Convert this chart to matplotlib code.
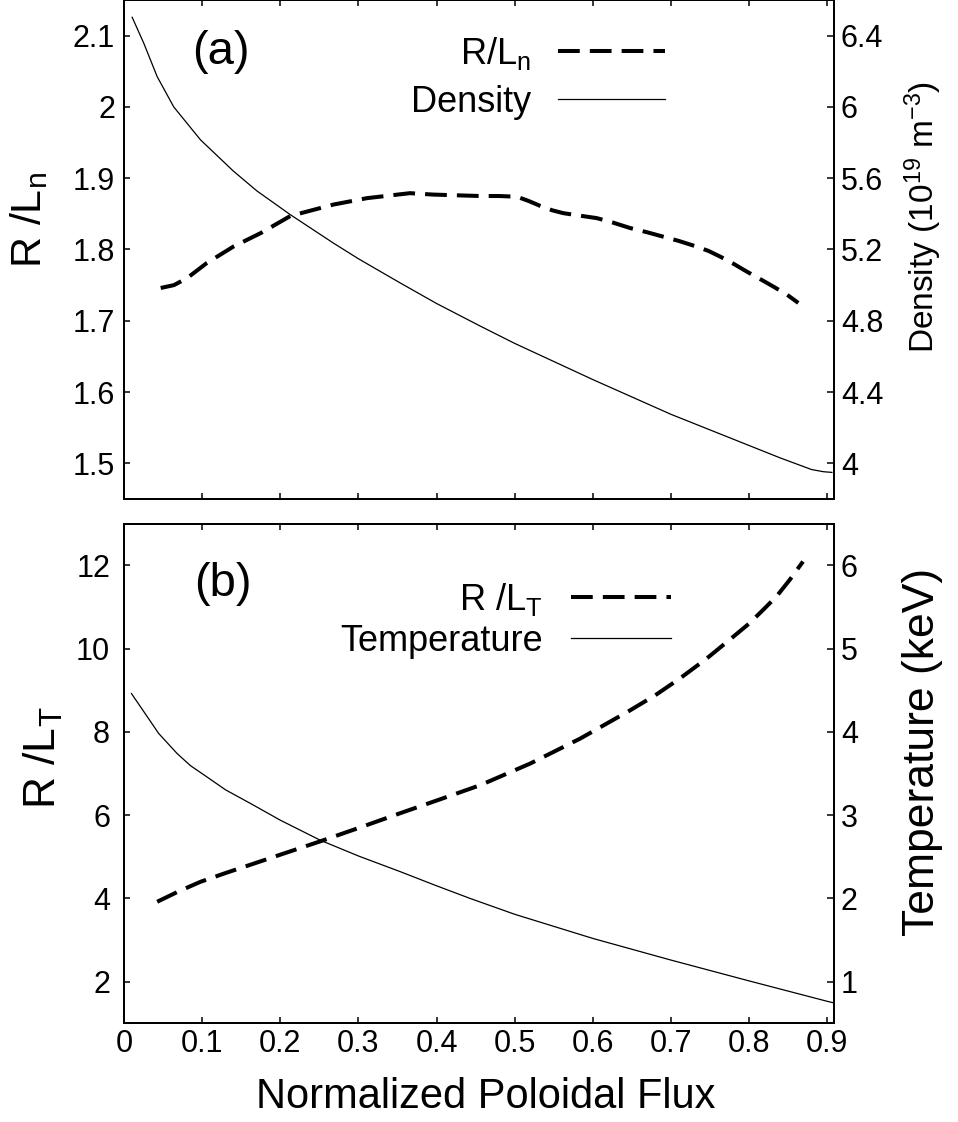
import matplotlib
matplotlib.use("Agg")
import matplotlib.pyplot as plt
from matplotlib.ticker import FuncFormatter, MultipleLocator

plt.rcParams['font.family'] = ['Liberation Sans', 'DejaVu Sans']
plt.rcParams['mathtext.default'] = 'regular'

# ---- panel (a): density gradient and density profile ----
psi_rln = [0.047, 0.064, 0.081, 0.106, 0.140, 0.175, 0.213, 0.268, 0.311, 0.366,
           0.396, 0.456, 0.480, 0.503, 0.518, 0.533, 0.548, 0.562, 0.580, 0.605,
           0.625, 0.648, 0.670, 0.690, 0.710, 0.733, 0.748, 0.763, 0.780, 0.797,
           0.815, 0.831, 0.848, 0.863]
rln = [1.746, 1.750, 1.760, 1.781, 1.804, 1.823, 1.847, 1.863, 1.872, 1.879,
       1.877, 1.875, 1.875, 1.874, 1.868, 1.861, 1.855, 1.851, 1.848, 1.844,
       1.838, 1.830, 1.824, 1.818, 1.812, 1.804, 1.798, 1.790, 1.780, 1.769,
       1.758, 1.748, 1.737, 1.725]

psi_ne = [0.0105, 0.0254, 0.0425, 0.0637, 0.098, 0.140, 0.170, 0.213, 0.268, 0.300,
          0.354, 0.400, 0.456, 0.500, 0.600, 0.700, 0.800, 0.840, 0.880, 0.895,
          0.906]
ne = [6.503, 6.357, 6.170, 6.000, 5.815, 5.640, 5.529, 5.395, 5.236, 5.148,
      5.011, 4.897, 4.770, 4.673, 4.470, 4.275, 4.100, 4.030, 3.965, 3.953,
      3.949]

# ---- panel (b): temperature gradient and temperature profile ----
psi_rlt = [0.0425, 0.070, 0.098, 0.130, 0.162, 0.200, 0.251, 0.300, 0.354, 0.400,
           0.456, 0.520, 0.584, 0.648, 0.680, 0.712, 0.745, 0.775, 0.800, 0.818,
           0.835, 0.852, 0.869]
rlt = [3.92, 4.17, 4.40, 4.61, 4.81, 5.05, 5.37, 5.69, 6.05, 6.35,
       6.72, 7.24, 7.84, 8.52, 8.88, 9.29, 9.75, 10.21, 10.60, 10.93,
       11.25, 11.65, 12.09]

psi_te = [0.0096, 0.0445, 0.068, 0.085, 0.106, 0.130, 0.162, 0.200, 0.251, 0.300,
          0.354, 0.400, 0.443, 0.500, 0.600, 0.700, 0.800, 0.900, 0.909]
te = [4.46, 3.98, 3.74, 3.595, 3.46, 3.304, 3.14, 2.94, 2.70, 2.51,
      2.32, 2.152, 2.00, 1.81, 1.52, 1.26, 1.01, 0.765, 0.745]

x_ticks = [0, 0.1, 0.2, 0.3, 0.4, 0.5, 0.6, 0.7, 0.8, 0.9]

TICK_FS = 22
LEG_FS = 26
DASH_KW = dict(color='black', lw=2.9, dashes=(5.4, 2.5))
SOLID_KW = dict(color='black', lw=0.9)
fmt = FuncFormatter(lambda v, p: '%g' % round(v, 3))

fig = plt.figure(figsize=(9.58, 11.22), dpi=100)
ax1 = fig.add_axes([0.1294, 0.5553, 0.7411, 0.4447])
ax2 = fig.add_axes([0.1294, 0.0879, 0.7411, 0.4454])
ax1r = ax1.twinx()
ax2r = ax2.twinx()

for ax in (ax1, ax2, ax1r, ax2r):
    for s in ax.spines.values():
        s.set_linewidth(1.4)
    ax.set_xlim(0, 0.9086)
    ax.set_xticks(x_ticks)
    ax.xaxis.set_major_formatter(fmt)
    ax.yaxis.set_major_formatter(fmt)

for ax in (ax1, ax2):
    ax.tick_params(axis='x', direction='in', top=True, bottom=True,
                   length=4.5, width=1.1, labelsize=TICK_FS, pad=4)
ax1.tick_params(axis='x', labelbottom=False)

# panel (a)
l_rln, = ax1.plot(psi_rln, rln, **DASH_KW)
l_ne, = ax1r.plot(psi_ne, ne, **SOLID_KW)
ax1.set_ylim(1.45, 2.15)
ax1.yaxis.set_major_locator(MultipleLocator(0.1))
ax1r.set_ylim(3.8, 6.6)
ax1r.yaxis.set_major_locator(MultipleLocator(0.4))
ax1.tick_params(axis='y', direction='in', length=4.5, width=1.1,
                labelsize=TICK_FS, pad=6.5)
ax1r.tick_params(axis='y', direction='in', length=5, width=1.1,
                 labelsize=TICK_FS, pad=5)

ax1.set_ylabel('R /L$_{n}$', fontsize=31)
ax1.yaxis.set_label_coords(-0.104, 0.559)
ax1r.set_ylabel('Density (10$^{19}$ m$^{-3}$)', fontsize=24)
ax1r.yaxis.set_label_coords(1.096, 0.566)

ax1.text(0.137, 0.896, '(a)', transform=ax1.transAxes, fontsize=34,
         ha='center', va='center')
ax1.legend([l_rln, l_ne], ['R/L$_{n}$', 'Density'], loc='upper right',
           bbox_to_anchor=(0.762, 0.93), frameon=False, markerfirst=False,
           fontsize=LEG_FS, handlelength=2.95, handletextpad=0.75, borderpad=0,
           borderaxespad=0, labelspacing=0.35)

# panel (b)
l_rlt, = ax2.plot(psi_rlt, rlt, **DASH_KW)
l_te, = ax2r.plot(psi_te, te, **SOLID_KW)
ax2.set_ylim(1, 13)
ax2.yaxis.set_major_locator(MultipleLocator(2))
ax2r.set_ylim(0.5, 6.5)
ax2r.yaxis.set_major_locator(MultipleLocator(1))
ax2.tick_params(axis='y', direction='in', length=4.5, width=1.1,
                labelsize=TICK_FS, pad=10)
ax2r.tick_params(axis='y', direction='in', length=5, width=1.1,
                 labelsize=TICK_FS, pad=5)

ax2.set_ylabel('R /L$_{T}$', fontsize=32)
ax2.yaxis.set_label_coords(-0.083, 0.531)
ax2r.set_ylabel('Temperature (keV)', fontsize=32)
ax2r.yaxis.set_label_coords(1.096, 0.543)

ax2.text(0.139, 0.879, '(b)', transform=ax2.transAxes, fontsize=34,
         ha='center', va='center')
ax2.legend([l_rlt, l_te], ['R /L$_{T}$', 'Temperature'], loc='upper right',
           bbox_to_anchor=(0.771, 0.885), frameon=False, markerfirst=False,
           fontsize=LEG_FS, handlelength=2.77, handletextpad=0.8, borderpad=0,
           borderaxespad=0, labelspacing=0.15)

ax2.set_xlabel('Normalized Poloidal Flux', fontsize=30)
ax2.xaxis.set_label_coords(0.509, -0.107)

fig.savefig('out.png', dpi=100)
